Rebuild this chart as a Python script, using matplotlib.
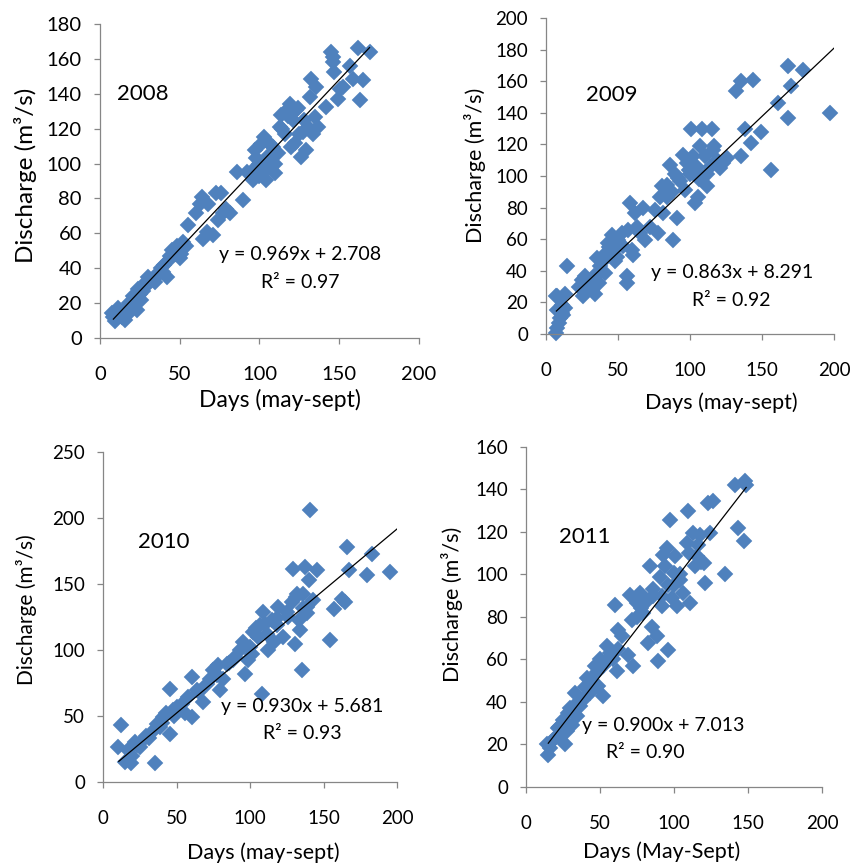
"""
Discharge vs. days (May-Sept) scatter plots with linear trendlines, 2008-2011.
"""

import matplotlib
matplotlib.use('Agg')
import matplotlib.pyplot as plt
import numpy as np

plt.rcParams['font.family'] = ['Lato', 'DejaVu Sans']

# --- data ---
years = ['2008', '2009', '2010', '2011']

days_2008 = [7.5, 9.4, 11.5, 15.7, 17.7, 19.8, 21, 23, 24, 26, 28, 30, 34.4, 36.5, 39.7, 41.8, 43, 45, 48, 50,
             51, 54, 55, 60.5, 62.6, 63.7, 64.7, 67, 68, 71, 73, 74, 76, 77, 79, 81.4, 85.6, 89.8, 96, 97,
             98, 100, 101, 102, 103, 104, 105, 107.5, 108.6, 109.6, 111.7, 112.7, 113.8, 115.9, 117, 119, 120, 121, 123, 125,
             126, 129.4, 130.5, 131.5, 132.6, 133.6, 134.7, 135.7, 136.7, 142, 145, 146, 147, 149, 150.3, 152.4, 156.6, 158.7, 162, 163,
             165, 169, 146,
             8, 12, 14, 16, 18, 20, 22, 25, 27, 29, 32, 35, 38, 40, 44, 47, 52, 98, 100, 106,
             110, 114, 118, 122, 124, 127, 128, 92]
q_2008 = [14.3, 9.5, 17, 10.5, 14, 19, 24, 16, 28, 22, 31.5, 35, 32, 37, 38, 35, 45, 50.5, 52.5, 46,
          48, 53, 65, 71.5, 77, 81, 57, 61, 77, 59, 83, 67.7, 83, 71.5, 74, 71.5, 95, 79, 90.6, 107.7,
          98, 100, 111, 95, 115, 90.6, 104, 98, 109.6, 94.4, 105.8, 121, 127.8, 117, 130.6, 134.4, 109.6, 124.9, 130.6, 117,
          104, 107.7, 121, 138, 148.7, 117, 126.8, 144, 121, 132.5, 164, 158, 152.6, 137, 143, 144, 156, 148.7, 166, 136.4,
          147.8, 164, 161,
          12, 14, 12, 16, 20, 18, 21, 25, 27, 30, 33, 35, 40, 42, 47, 48, 55, 103, 93, 112,
          100, 120, 127, 112, 132, 118, 125, 95]

days_2009 = [7.2, 7.6, 8.8, 10, 11, 12, 13.4, 7.5, 7, 7.6, 11, 13.4, 14.5, 22.6, 25, 26, 27, 30, 30.7, 33,
             34, 35.3, 36.5, 37.6, 40, 41, 42, 43.4, 45.7, 46.9, 48, 49, 50.3, 52.6, 53.8, 56, 56, 57, 58.4, 59.6,
             60.7, 62, 63, 65.4, 67.7, 68.8, 72, 75.7, 78, 79, 80.4, 81.5, 83.8, 86, 87.3, 88.5, 89.6, 90.8, 93, 95.4,
             96.5, 97.7, 100, 101, 102.3, 103.4, 104.6, 105.7, 107, 108, 109, 110.4, 111.5, 113.8, 115, 116, 117, 120.8, 123, 125.4,
             132, 135.7, 135.7, 138, 142.7, 144, 149.6, 156.6, 161, 168, 168, 170.4, 178.5, 197.5,
             84, 92, 99, 106, 112, 119, 44, 38, 28, 32]
q_2009 = [0.6, 3.8, 7, 10, 13, 12, 16.5, 15.4, 23.8, 24, 18.6, 25, 42.8, 30, 34.4, 24, 36.5, 32, 29, 36.5,
          25, 48, 32, 42.8, 47, 38.6, 51, 57.6, 62.9, 53.4, 46, 49, 59.7, 64, 55.5, 36.5, 32.3, 66, 83, 53.4,
          50.2, 76.6, 68, 64, 80, 59.7, 68, 78.7, 64, 87, 93.5, 76.6, 87, 107, 90, 59.7, 101.5, 73.4, 96.6, 113.5,
          91.3, 108, 101.5, 130, 112.4, 83, 105.8, 87, 118.8, 129.5, 99.5, 112.4, 93.5, 105.8, 130, 116.5, 118.8, 105, 108, 111.4,
          153.6, 112.4, 160, 130, 121, 161, 128, 104, 146, 136.7, 169.4, 156.7, 167, 139.9,
          94, 99, 104, 98, 101, 110, 55, 40, 33, 28]

days_2010 = [10.2, 12.5, 14.8, 17, 19.3, 21.6, 25, 27.3, 29.5, 33, 35.2, 36.4, 38.6, 41, 43, 45.5, 45.5, 47.7, 50, 53.4,
             55.7, 58, 60.2, 60.2, 63.6, 68, 70.5, 72.7, 75, 77.3, 78.4, 79.5, 81.8, 84, 88.6, 93.2, 95.5, 96.6, 98.8, 101,
             102.3, 105.7, 106.8, 108, 109, 111.4, 112.5, 114.8, 116, 118, 119.3, 122.7, 125, 128.4, 129.5, 130.7, 132, 133, 134, 135,
             136, 137.5, 138.6, 139.8, 141, 143, 145.5, 154.5, 156.8, 162.5, 164.8, 166, 167, 179.5, 183, 195.5,
             104, 110, 118, 126, 131, 136, 139, 100, 90, 86, 20, 23, 31, 40, 48, 65]
q_2010 = [26.5, 43, 15, 24, 14, 30, 26.5, 31.6, 35, 38, 14, 44, 41.7, 49, 52, 70.7, 36.6, 54.3, 56.8, 59,
          52, 64, 49, 79.5, 69.4, 60.6, 74.5, 78.3, 84.6, 80.8, 88.4, 69.4, 78.3, 89.6, 92.2, 99.7, 106, 82, 92.2, 97,
          113.6, 109.8, 118.7, 67, 128.8, 112.4, 99.7, 122.5, 106, 118.7, 132.6, 109.8, 128.8, 136.4, 161.6, 104.8, 142.7, 122.5, 115, 84.6,
          142.7, 162.9, 132.6, 152.8, 206.3, 137.6, 160.4, 107.3, 131.3, 138.9, 136.4, 178, 160.4, 156.6, 173, 159,
          117, 120, 124, 125, 140, 132, 128, 102, 95, 90, 20, 28, 33, 45, 50, 68]

days_2011 = [14, 15, 16.2, 19.6, 21.9, 24, 25.3, 26.4, 27.5, 28.6, 30.9, 33, 34.3, 36.5, 38.8, 41, 43.3, 45.5, 46.7, 49,
             50, 52.3, 54.6, 56.8, 59, 60.2, 61.3, 62.5, 64.7, 69, 70.3, 71.5, 72.6, 74.9, 77, 79.4, 81.6, 82.7, 83.9, 85,
             86, 88.4, 89.5, 90.6, 91.8, 92.9, 94, 95, 96.3, 97.4, 98.5, 99.7, 100.8, 102, 104, 106.4, 108.7, 109.8, 111, 113,
             114.3, 115.4, 117.7, 120, 121, 123, 126.7, 124.5, 134.6, 141.4, 143.6, 147, 148, 149,
             40, 44, 48, 52, 56, 62, 75, 78, 80, 86, 92, 96, 100, 104, 110, 116, 118, 35, 30, 22, 18]
q_2011 = [20, 15.2, 18.4, 23, 27.8, 24.6, 31.7, 20, 26.2, 34.8, 29.3, 44.2, 33.2, 38, 41, 51.3, 44.2, 49, 56.8, 47.4,
          60, 42.7, 66.2, 63, 60, 85.8, 54.4, 74, 71, 62.3, 90.5, 78.7, 56.8, 86.6, 91.3, 81.9, 87.4, 67.8, 103.8, 75.5,
          89.7, 71, 59.1, 99, 85, 109.3, 103.8, 112.4, 64.6, 125.8, 89, 100.7, 108.5, 85, 97.5, 91.3, 114.8, 129.7, 86.6, 119.5,
          103.8, 108.5, 118.7, 105.4, 96, 133.6, 134.4, 119.5, 100, 142.3, 121.9, 115.6, 143.8, 142.3,
          47, 50, 54, 57, 60, 65, 80, 84, 88, 93, 90, 95, 95, 100, 110, 114, 106, 40, 37, 28, 22]

# trendline coefficients and the x range it spans
slopes = [0.969, 0.863, 0.930, 0.900]
intercepts = [2.708, 8.291, 5.681, 7.013]
fit_start = [8.4, 7.2, 10.7, 15.1]
fit_end = [169, 200, 200, 148.8]
equations = ['y = 0.969x + 2.708', 'y = 0.863x + 8.291', 'y = 0.930x + 5.681', 'y = 0.900x + 7.013']
r2_labels = ['R² = 0.97', 'R² = 0.92', 'R² = 0.93', 'R² = 0.90']
x_labels = ['Days (may-sept)', 'Days (may-sept)', 'Days (may-sept)', 'Days (May-Sept)']
y_max = [180, 200, 250, 160]
y_step = [20, 20, 50, 20]

all_days = [days_2008, days_2009, days_2010, days_2011]
all_q = [q_2008, q_2009, q_2010, q_2011]

MARKER_COLOR = '#4F81BD'
AXIS_COLOR = '#868686'

# per-panel layout: axes rect, label positions (axes fraction), text anchors (data)
layout = [
    dict(rect=[0.1172, 0.6092, 0.3740, 0.3631], xlab=(0.564, -0.197), ylab=(-0.235, 0.519),
         year=(27, 140), eq=(125.3, 47.7), r2=(125.3, 31.6), tick=14.5, ylab_fs=17.5, xlab_fs=16.5),
    dict(rect=[0.6401, 0.6139, 0.3376, 0.3653], xlab=(0.608, -0.218), ylab=(-0.247, 0.532),
         year=(45.8, 151), eq=(129, 38.6), r2=(129, 21.5), tick=13.5, ylab_fs=15.5, xlab_fs=15.5),
    dict(rect=[0.1208, 0.0960, 0.3447, 0.3815], xlab=(0.544, -0.215), ylab=(-0.262, 0.521),
         year=(41.5, 182), eq=(135.4, 56.8), r2=(135.4, 37), tick=13.5, ylab_fs=15, xlab_fs=15.5),
    dict(rect=[0.6166, 0.0902, 0.3470, 0.3931], xlab=(0.459, -0.191), ylab=(-0.250, 0.538),
         year=(39.9, 117.6), eq=(92.6, 28.7), r2=(80.4, 16), tick=13.5, ylab_fs=15.5, xlab_fs=15.5),
]


def draw_panel(ax, i):
    """Draw one year's scatter, trendline and annotations."""
    lay = layout[i]
    days = np.array(all_days[i])
    q = np.array(all_q[i])
    assert len(days) == len(q)

    ax.plot(days, q, linestyle='none', marker='D', markersize=8,
            markerfacecolor=MARKER_COLOR, markeredgecolor=MARKER_COLOR,
            markeredgewidth=0.3, zorder=2, clip_on=False)

    xs = np.array([fit_start[i], fit_end[i]])
    ax.plot(xs, slopes[i] * xs + intercepts[i], color='black', lw=0.9, zorder=3)

    ax.set_xlim(0, 200)
    ax.set_ylim(0, y_max[i])
    ax.set_xticks(np.arange(0, 201, 50))
    ax.set_yticks(np.arange(0, y_max[i] + 1, y_step[i]))

    for side in ('top', 'right'):
        ax.spines[side].set_visible(False)
    for side in ('left', 'bottom'):
        ax.spines[side].set_color(AXIS_COLOR)
        ax.spines[side].set_linewidth(0.9)
    ax.tick_params(axis='both', colors=AXIS_COLOR, labelcolor='black',
                   labelsize=lay['tick'], length=4, width=0.9, direction='out')
    ax.tick_params(axis='x', pad=16)
    ax.tick_params(axis='y', pad=9)

    ax.set_xlabel(x_labels[i], fontsize=lay['xlab_fs'])
    ax.set_ylabel('Discharge (m³/s)', fontsize=lay['ylab_fs'])
    ax.xaxis.set_label_coords(*lay['xlab'])
    ax.yaxis.set_label_coords(*lay['ylab'])
    ax.xaxis.label.set_verticalalignment('center')
    ax.yaxis.label.set_verticalalignment('center')

    ax.text(*lay['year'], years[i], fontsize=16, ha='center', va='center')
    ax.text(*lay['eq'], equations[i], fontsize=14, ha='center', va='center')
    ax.text(*lay['r2'], r2_labels[i], fontsize=14, ha='center', va='center')


if __name__ == "__main__":
    fig = plt.figure(figsize=(8.53, 8.65), dpi=100)
    for i in range(4):
        ax = fig.add_axes(layout[i]['rect'])
        draw_panel(ax, i)
    fig.savefig('out.png', dpi=100)
